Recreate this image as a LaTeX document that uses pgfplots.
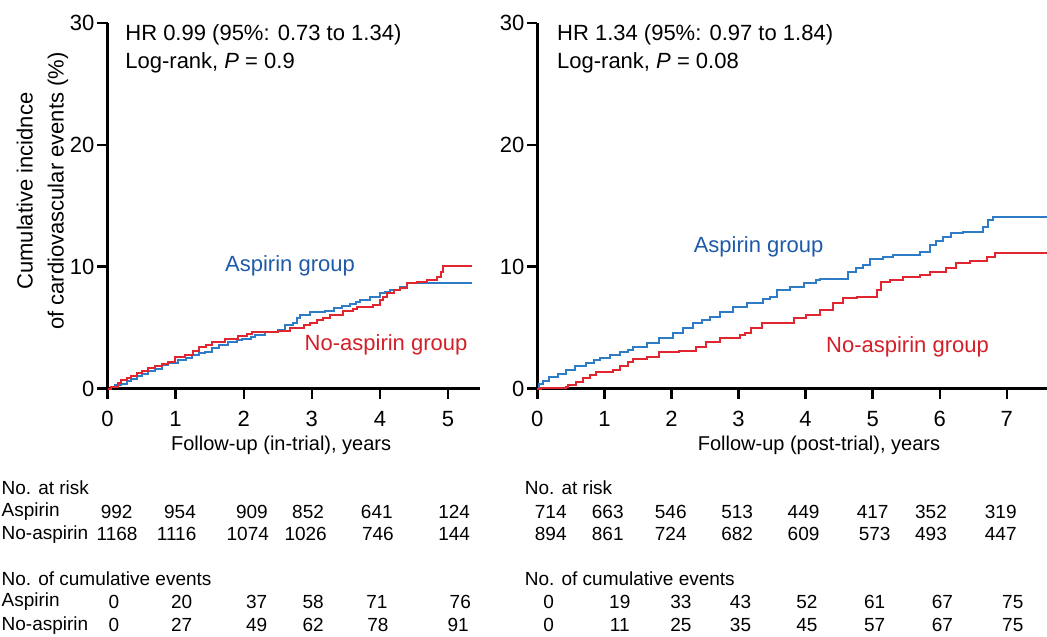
\documentclass[border=0pt]{standalone}
\usepackage{fontspec}
\setmainfont{Liberation Sans}
\usepackage{pgfplots}
\pgfplotsset{compat=1.18}
\definecolor{bl}{HTML}{2E7BC6}
\definecolor{blt}{HTML}{1F5AA8}
\definecolor{rd}{HTML}{E2262F}
\definecolor{rdt}{HTML}{D21F28}
\newcommand{\tf}{\fontsize{9.5}{11}\selectfont}
\newcommand{\lf}{\fontsize{11}{14}\selectfont}
\tikzset{
  tab/.style={font=\tf, anchor=center, inner sep=0pt},
  tabl/.style={font=\tf, anchor=west, inner sep=0pt},
}
\pgfplotsset{km/.style={
  scale only axis, axis lines*=left,
  axis line style={line width=1.2pt, black},
  xmin=0, ymin=0, ymax=30, ytick={0,10,20,30},
  tick align=outside, major tick length=5pt,
  tick style={line width=1.2pt, black},
  /pgf/number format/assume math mode=true,
  ticklabel style={font=\fontsize{11}{13}\selectfont},
  xticklabel shift=3pt, yticklabel shift=-2pt,
  clip=false, height=182.75pt,
  every axis plot/.append style={const plot, line width=1pt},
}}
\begin{document}
\begin{tikzpicture}
\useasboundingbox (0,0) rectangle (523.5pt,-318pt);
% ---------------- Left panel ----------------
\begin{axis}[km, at={(53.75pt,-194.25pt)}, anchor=south west,
  width=186.25pt, xmax=5.47, xtick={0,1,2,3,4,5}]
\addplot[bl] coordinates {
(0,0) (0.05,0.15) (0.11,0.27) (0.2,0.41) (0.28,0.6) (0.35,0.8) (0.43,1.0)
(0.5,1.2) (0.6,1.4) (0.7,1.6) (0.8,1.9) (0.89,2.1) (1.04,2.3) (1.15,2.5)
(1.24,2.75) (1.35,2.9) (1.43,3.02) (1.53,3.3) (1.63,3.55) (1.77,3.8)
(1.9,3.95) (1.97,4.1) (2.1,4.25) (2.17,4.4) (2.31,4.65) (2.5,4.8)
(2.61,5.2) (2.72,5.4) (2.78,5.76) (2.83,6.03) (2.97,6.3) (3.2,6.4)
(3.32,6.6) (3.45,6.75) (3.56,6.9) (3.65,7.1) (3.71,7.3) (3.86,7.55)
(4.0,7.8) (4.08,7.95) (4.15,8.1) (4.3,8.35) (4.4,8.65) (5.35,8.65)};
\addplot[rd] coordinates {
(0,0) (0.05,0.1) (0.15,0.45) (0.2,0.7) (0.28,0.85) (0.35,1.03) (0.43,1.25)
(0.5,1.47) (0.6,1.65) (0.7,1.85) (0.8,2.0) (0.89,2.2) (0.99,2.56)
(1.14,2.75) (1.25,3.1) (1.34,3.4) (1.45,3.6) (1.53,3.84) (1.73,4.1)
(1.92,4.3) (2.05,4.45) (2.12,4.6) (2.31,4.66) (2.51,4.75) (2.68,4.94)
(2.88,5.21) (2.98,5.4) (3.07,5.62) (3.17,5.8) (3.27,6.03) (3.46,6.39)
(3.6,6.55) (3.66,6.72) (3.9,6.85) (4.0,7.26) (4.05,7.55) (4.1,7.8)
(4.2,8.08) (4.3,8.21) (4.4,8.63) (4.54,8.76) (4.69,8.9) (4.84,9.17)
(4.89,9.58) (4.93,10.05) (5.35,10.05)};
\node[font=\lf, anchor=north west, align=left, inner sep=0pt] at (axis cs:0.257,29.93)
  {HR 0.99 (95\%: 0.73 to 1.34)\\Log-rank, \textit{P} = 0.9};
\node[font=\lf, text=blt] at (axis cs:2.68,10.06) {Aspirin group};
\node[font=\lf, text=rdt] at (axis cs:4.09,3.57) {No-aspirin group};
\node[font=\fontsize{10}{12}\selectfont] at (axis cs:2.55,-4.64) {Follow-up (in-trial), years};
\node[font=\fontsize{11}{15.5}\selectfont, rotate=90, align=center] at (rel axis cs:-0.1745,0.54)
  {Cumulative incidnce\\of cardiovascular events (\%)};
% table
\node[tabl] at (axis cs:-1.56,-8.17) {No. at risk};
\node[tabl] at (axis cs:-1.56,-10.14) {Aspirin};
\node[tabl] at (axis cs:-1.56,-11.95) {No-aspirin};
\node[tabl] at (axis cs:-1.56,-15.65) {No. of cumulative events};
\node[tabl] at (axis cs:-1.56,-17.53) {Aspirin};
\node[tabl] at (axis cs:-1.56,-19.42) {No-aspirin};
\node[tab] at (axis cs:0.135,-10.14) {992};
\node[tab] at (axis cs:1.065,-10.14) {954};
\node[tab] at (axis cs:2.12,-10.14) {909};
\node[tab] at (axis cs:2.945,-10.14) {852};
\node[tab] at (axis cs:3.955,-10.14) {641};
\node[tab] at (axis cs:5.09,-10.14) {124};
\node[tab] at (axis cs:0.14,-11.95) {1168};
\node[tab] at (axis cs:1.015,-11.95) {1116};
\node[tab] at (axis cs:2.06,-11.95) {1074};
\node[tab] at (axis cs:2.91,-11.95) {1026};
\node[tab] at (axis cs:3.97,-11.95) {746};
\node[tab] at (axis cs:5.09,-11.95) {144};
\node[tab] at (axis cs:0.095,-17.53) {0};
\node[tab] at (axis cs:1.09,-17.53) {20};
\node[tab] at (axis cs:2.19,-17.53) {37};
\node[tab] at (axis cs:3.02,-17.53) {58};
\node[tab] at (axis cs:3.955,-17.53) {71};
\node[tab] at (axis cs:5.18,-17.53) {76};
\node[tab] at (axis cs:0.095,-19.42) {0};
\node[tab] at (axis cs:1.09,-19.42) {27};
\node[tab] at (axis cs:2.19,-19.42) {49};
\node[tab] at (axis cs:3.02,-19.42) {62};
\node[tab] at (axis cs:3.97,-19.42) {78};
\node[tab] at (axis cs:5.15,-19.42) {91};
\end{axis}
% ---------------- Right panel ----------------
\begin{axis}[km, at={(268.65pt,-194.25pt)}, anchor=south west,
  width=254.85pt, xmax=7.6, xtick={0,1,2,3,4,5,6,7}]
\addplot[bl] coordinates {
(0,0) (0.03,0.35) (0.085,0.62) (0.18,0.97) (0.31,1.19) (0.43,1.52)
(0.56,1.84) (0.73,2.07) (0.85,2.3) (0.93,2.48) (1.08,2.75) (1.23,3.02)
(1.35,3.2) (1.43,3.43) (1.63,3.71) (1.82,4.12) (2.02,4.53) (2.17,4.94)
(2.32,5.35) (2.45,5.6) (2.57,5.9) (2.72,6.3) (2.92,6.72) (3.12,7.05)
(3.36,7.32) (3.47,7.54) (3.57,8.08) (3.77,8.36) (3.97,8.63) (4.16,8.9)
(4.21,8.99) (4.64,9.59) (4.75,9.9) (4.86,10.14) (4.96,10.6) (5.16,10.82)
(5.3,10.96) (5.7,11.23) (5.85,11.78) (5.95,12.1) (6.05,12.46) (6.17,12.73)
(6.35,12.87) (6.65,13.28) (6.72,13.83) (6.8,14.1) (7.6,14.1)};
\addplot[rd] coordinates {
(0,0) (0.05,0.08) (0.43,0.1) (0.46,0.29) (0.58,0.56) (0.68,0.84)
(0.78,1.11) (0.88,1.38) (1.13,1.52) (1.23,1.84) (1.35,2.2) (1.43,2.4)
(1.63,2.6) (1.82,3.0) (2.12,3.1) (2.37,3.43) (2.52,3.84) (2.72,4.12)
(3.02,4.39) (3.1,4.53) (3.18,4.94) (3.35,5.41) (3.77,5.41) (3.82,5.76)
(4.01,6.03) (4.21,6.44) (4.41,6.99) (4.56,7.4) (4.76,7.54) (5.06,8.08)
(5.13,8.77) (5.26,8.9) (5.45,9.12) (5.7,9.32) (5.85,9.59) (6.1,9.87)
(6.25,10.27) (6.45,10.46) (6.7,10.82) (6.82,11.1) (7.6,11.1)};
\node[font=\lf, anchor=north west, align=left, inner sep=0pt] at (axis cs:0.29,29.93)
  {HR 1.34 (95\%: 0.97 to 1.84)\\Log-rank, \textit{P} = 0.08};
\node[font=\lf, text=blt] at (axis cs:3.3,11.64) {Aspirin group};
\node[font=\lf, text=rdt] at (axis cs:5.52,3.43) {No-aspirin group};
\node[font=\fontsize{10}{12}\selectfont] at (axis cs:4.2,-4.64) {Follow-up (post-trial), years};
% table
\node[tabl] at (axis cs:-0.19,-8.17) {No. at risk};
\node[tabl] at (axis cs:-0.19,-15.65) {No. of cumulative events};
\node[tab] at (axis cs:0.2,-10.14) {714};
\node[tab] at (axis cs:1.05,-10.14) {663};
\node[tab] at (axis cs:1.99,-10.14) {546};
\node[tab] at (axis cs:2.98,-10.14) {513};
\node[tab] at (axis cs:3.97,-10.14) {449};
\node[tab] at (axis cs:5.0,-10.14) {417};
\node[tab] at (axis cs:5.87,-10.14) {352};
\node[tab] at (axis cs:6.91,-10.14) {319};
\node[tab] at (axis cs:0.2,-11.95) {894};
\node[tab] at (axis cs:1.05,-11.95) {861};
\node[tab] at (axis cs:1.99,-11.95) {724};
\node[tab] at (axis cs:2.98,-11.95) {682};
\node[tab] at (axis cs:3.97,-11.95) {609};
\node[tab] at (axis cs:5.03,-11.95) {573};
\node[tab] at (axis cs:5.87,-11.95) {493};
\node[tab] at (axis cs:6.91,-11.95) {447};
\node[tab] at (axis cs:0.17,-17.53) {0};
\node[tab] at (axis cs:1.23,-17.53) {19};
\node[tab] at (axis cs:2.14,-17.53) {33};
\node[tab] at (axis cs:3.03,-17.53) {43};
\node[tab] at (axis cs:4.02,-17.53) {52};
\node[tab] at (axis cs:5.03,-17.53) {61};
\node[tab] at (axis cs:6.04,-17.53) {67};
\node[tab] at (axis cs:7.09,-17.53) {75};
\node[tab] at (axis cs:0.17,-19.42) {0};
\node[tab] at (axis cs:1.23,-19.42) {11};
\node[tab] at (axis cs:2.14,-19.42) {25};
\node[tab] at (axis cs:3.03,-19.42) {35};
\node[tab] at (axis cs:4.02,-19.42) {45};
\node[tab] at (axis cs:5.03,-19.42) {57};
\node[tab] at (axis cs:6.04,-19.42) {67};
\node[tab] at (axis cs:7.09,-19.42) {75};
\end{axis}
\end{tikzpicture}
\end{document}
